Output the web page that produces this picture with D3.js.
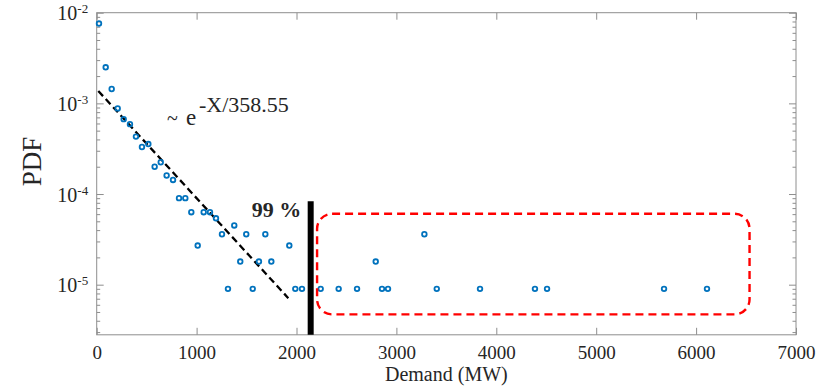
<!DOCTYPE html>
<html>
<head>
<meta charset="utf-8">
<script src="https://cdn.jsdelivr.net/npm/d3@7/dist/d3.min.js"></script>
<style>
  html, body { margin: 0; padding: 0; background: #fff; }
  svg { display: block; }
  text { font-family: "Liberation Serif", "Times New Roman", serif; fill: #262626; }
</style>
</head>
<body>
<svg id="chart" width="827" height="389"></svg>
<script>
// ---- data ----
const demand = [23, 90, 150, 210, 270, 333, 393, 453, 517, 580, 641, 700, 764, 824, 887,
  947, 1011, 1071, 1134, 1194, 1254, 1314, 1377, 1437, 1497, 1562, 1624, 1688, 1748,
  1928, 1988, 2055, 2242, 2422, 2606, 2793, 2856, 2916, 3280, 3404, 3837, 4387, 4508, 5679, 6109];
const pdf = [7.6e-3, 2.5e-3, 1.44e-3, 8.8e-4, 6.7e-4, 5.9e-4, 4.3e-4, 3.3e-4, 3.56e-4, 2.0e-4,
  2.24e-4, 1.6e-4, 1.43e-4, 9.0e-5, 9.0e-5,
  6.3e-5, 2.7e-5, 6.3e-5, 6.3e-5, 5.4e-5, 3.6e-5, 9e-6, 4.5e-5, 1.8e-5, 3.6e-5, 9e-6, 1.8e-5,
  3.6e-5, 1.8e-5, 2.7e-5, 9e-6, 9e-6, 9e-6, 9e-6, 9e-6, 1.8e-5, 9e-6, 9e-6, 3.6e-5, 9e-6,
  9e-6, 9e-6, 9e-6, 9e-6, 9e-6];
// fitted exponential (straight on log axis): end points
const fitX = [16, 1918];
const fitY = [1.37e-3, 7.1e-6];
// 99 % threshold bar
const thresholdX = 2142;
const thresholdTop = 8.3e-5;
// outlier region (dashed rounded box)
const boxX = [2206, 6535];
const boxY = [4.7e-6, 6.05e-5];
// axes
const xDomain = [0, 7000];
const yDomain = [2.8e-6, 1e-2];
const xTicks = [0, 1000, 2000, 3000, 4000, 5000, 6000, 7000];
const yMajor = [1e-5, 1e-4, 1e-3, 1e-2];
const yLabelExp = ["-5", "-4", "-3", "-2"];
const fitLabel = "-X/358.55";
const pctLabel = "99 %";

// ---- layout ----
const L = 96.7, R = 796, T = 12.7, B = 334.8;
const svg = d3.select("#chart");
const x = d3.scaleLinear().domain(xDomain).range([L, R]);
const y = d3.scaleLog().domain(yDomain).range([B, T]);
const axisColor = "#8e8e8e";

const yMinor = y.ticks().filter(v => !yMajor.some(m => Math.abs(m - v) / m < 1e-6));

function styleAxis(g) {
  g.select(".domain").remove();
  g.selectAll(".tick line").attr("stroke", axisColor).attr("stroke-width", 1);
}

// bottom axis (ticks inward) with labels
const gx = svg.append("g").attr("transform", `translate(0,${B})`)
  .call(d3.axisBottom(x).tickValues(xTicks).tickSize(-7).tickSizeOuter(0).tickPadding(11).tickFormat(d3.format("d")));
styleAxis(gx);
gx.selectAll(".tick text").attr("font-size", 19).attr("fill", "#262626")
  .style("font-family", '"Liberation Serif", "Times New Roman", serif');
// top axis ticks
const gxt = svg.append("g").attr("transform", `translate(0,${T})`)
  .call(d3.axisTop(x).tickValues(xTicks).tickSize(-7).tickSizeOuter(0).tickFormat(""));
styleAxis(gxt);

// left axis ticks
const gyl = svg.append("g").attr("transform", `translate(${L},0)`)
  .call(d3.axisLeft(y).tickValues(yMajor).tickSize(-7).tickSizeOuter(0).tickFormat(""));
styleAxis(gyl);
const gylm = svg.append("g").attr("transform", `translate(${L},0)`)
  .call(d3.axisLeft(y).tickValues(yMinor).tickSize(-3.5).tickSizeOuter(0).tickFormat(""));
styleAxis(gylm);
// right axis ticks
const gyr = svg.append("g").attr("transform", `translate(${R},0)`)
  .call(d3.axisRight(y).tickValues(yMajor).tickSize(-7).tickSizeOuter(0).tickFormat(""));
styleAxis(gyr);
const gyrm = svg.append("g").attr("transform", `translate(${R},0)`)
  .call(d3.axisRight(y).tickValues(yMinor).tickSize(-3.5).tickSizeOuter(0).tickFormat(""));
styleAxis(gyrm);

// y tick labels with superscripts
yMajor.forEach((v, i) => {
  const t = svg.append("text").attr("x", L - 8.5).attr("y", y(v) + 7.5)
    .attr("text-anchor", "end").attr("font-size", 20);
  t.append("tspan").text("10");
  t.append("tspan").attr("font-size", 13).attr("dy", -7).text(yLabelExp[i]);
});

// frame
svg.append("rect").attr("x", L).attr("y", T).attr("width", R - L).attr("height", B - T)
  .attr("fill", "none").attr("stroke", axisColor).attr("stroke-width", 1);

// fit line
svg.append("path")
  .datum(fitX.map((d, i) => [d, fitY[i]]))
  .attr("d", d3.line().x(d => x(d[0])).y(d => y(d[1])))
  .attr("fill", "none").attr("stroke", "#000").attr("stroke-width", 2.3)
  .attr("stroke-dasharray", "7,4");

// points
svg.append("g").selectAll("circle").data(demand).join("circle")
  .attr("cx", d => x(d)).attr("cy", (d, i) => y(pdf[i])).attr("r", 2.3)
  .attr("fill", "none").attr("stroke", "#0072BD").attr("stroke-width", 1.8);

// threshold bar
svg.append("line").attr("x1", x(thresholdX)).attr("x2", x(thresholdX))
  .attr("y1", y(thresholdTop)).attr("y2", B)
  .attr("stroke", "#000").attr("stroke-width", 6);

// dashed rounded box
svg.append("rect")
  .attr("x", x(boxX[0])).attr("y", y(boxY[1]))
  .attr("width", x(boxX[1]) - x(boxX[0])).attr("height", y(boxY[0]) - y(boxY[1]))
  .attr("rx", 15).attr("ry", 15)
  .attr("fill", "none").attr("stroke", "#ff0000").attr("stroke-width", 2.4)
  .attr("stroke-dasharray", "8,5");

// annotations
svg.append("text").attr("x", x(thresholdX) - 9.5).attr("y", 216.5)
  .attr("text-anchor", "end").attr("font-size", 22).attr("font-weight", "bold")
  .attr("fill", "#000").text(pctLabel);

svg.append("text").attr("x", 167).attr("y", 124.5).attr("font-size", 20).text("~");
svg.append("text").attr("x", 186).attr("y", 124.5).attr("font-size", 23).text("e");
svg.append("text").attr("x", 199).attr("y", 111.5).attr("font-size", 22).text(fitLabel);

// axis titles
svg.append("text").attr("x", (L + R) / 2).attr("y", 381).attr("text-anchor", "middle")
  .attr("font-size", 20).text("Demand (MW)");
svg.append("text").attr("transform", "translate(40.5,161.5) rotate(-90)")
  .attr("text-anchor", "middle").attr("font-size", 27).text("PDF");
</script>
</body>
</html>
